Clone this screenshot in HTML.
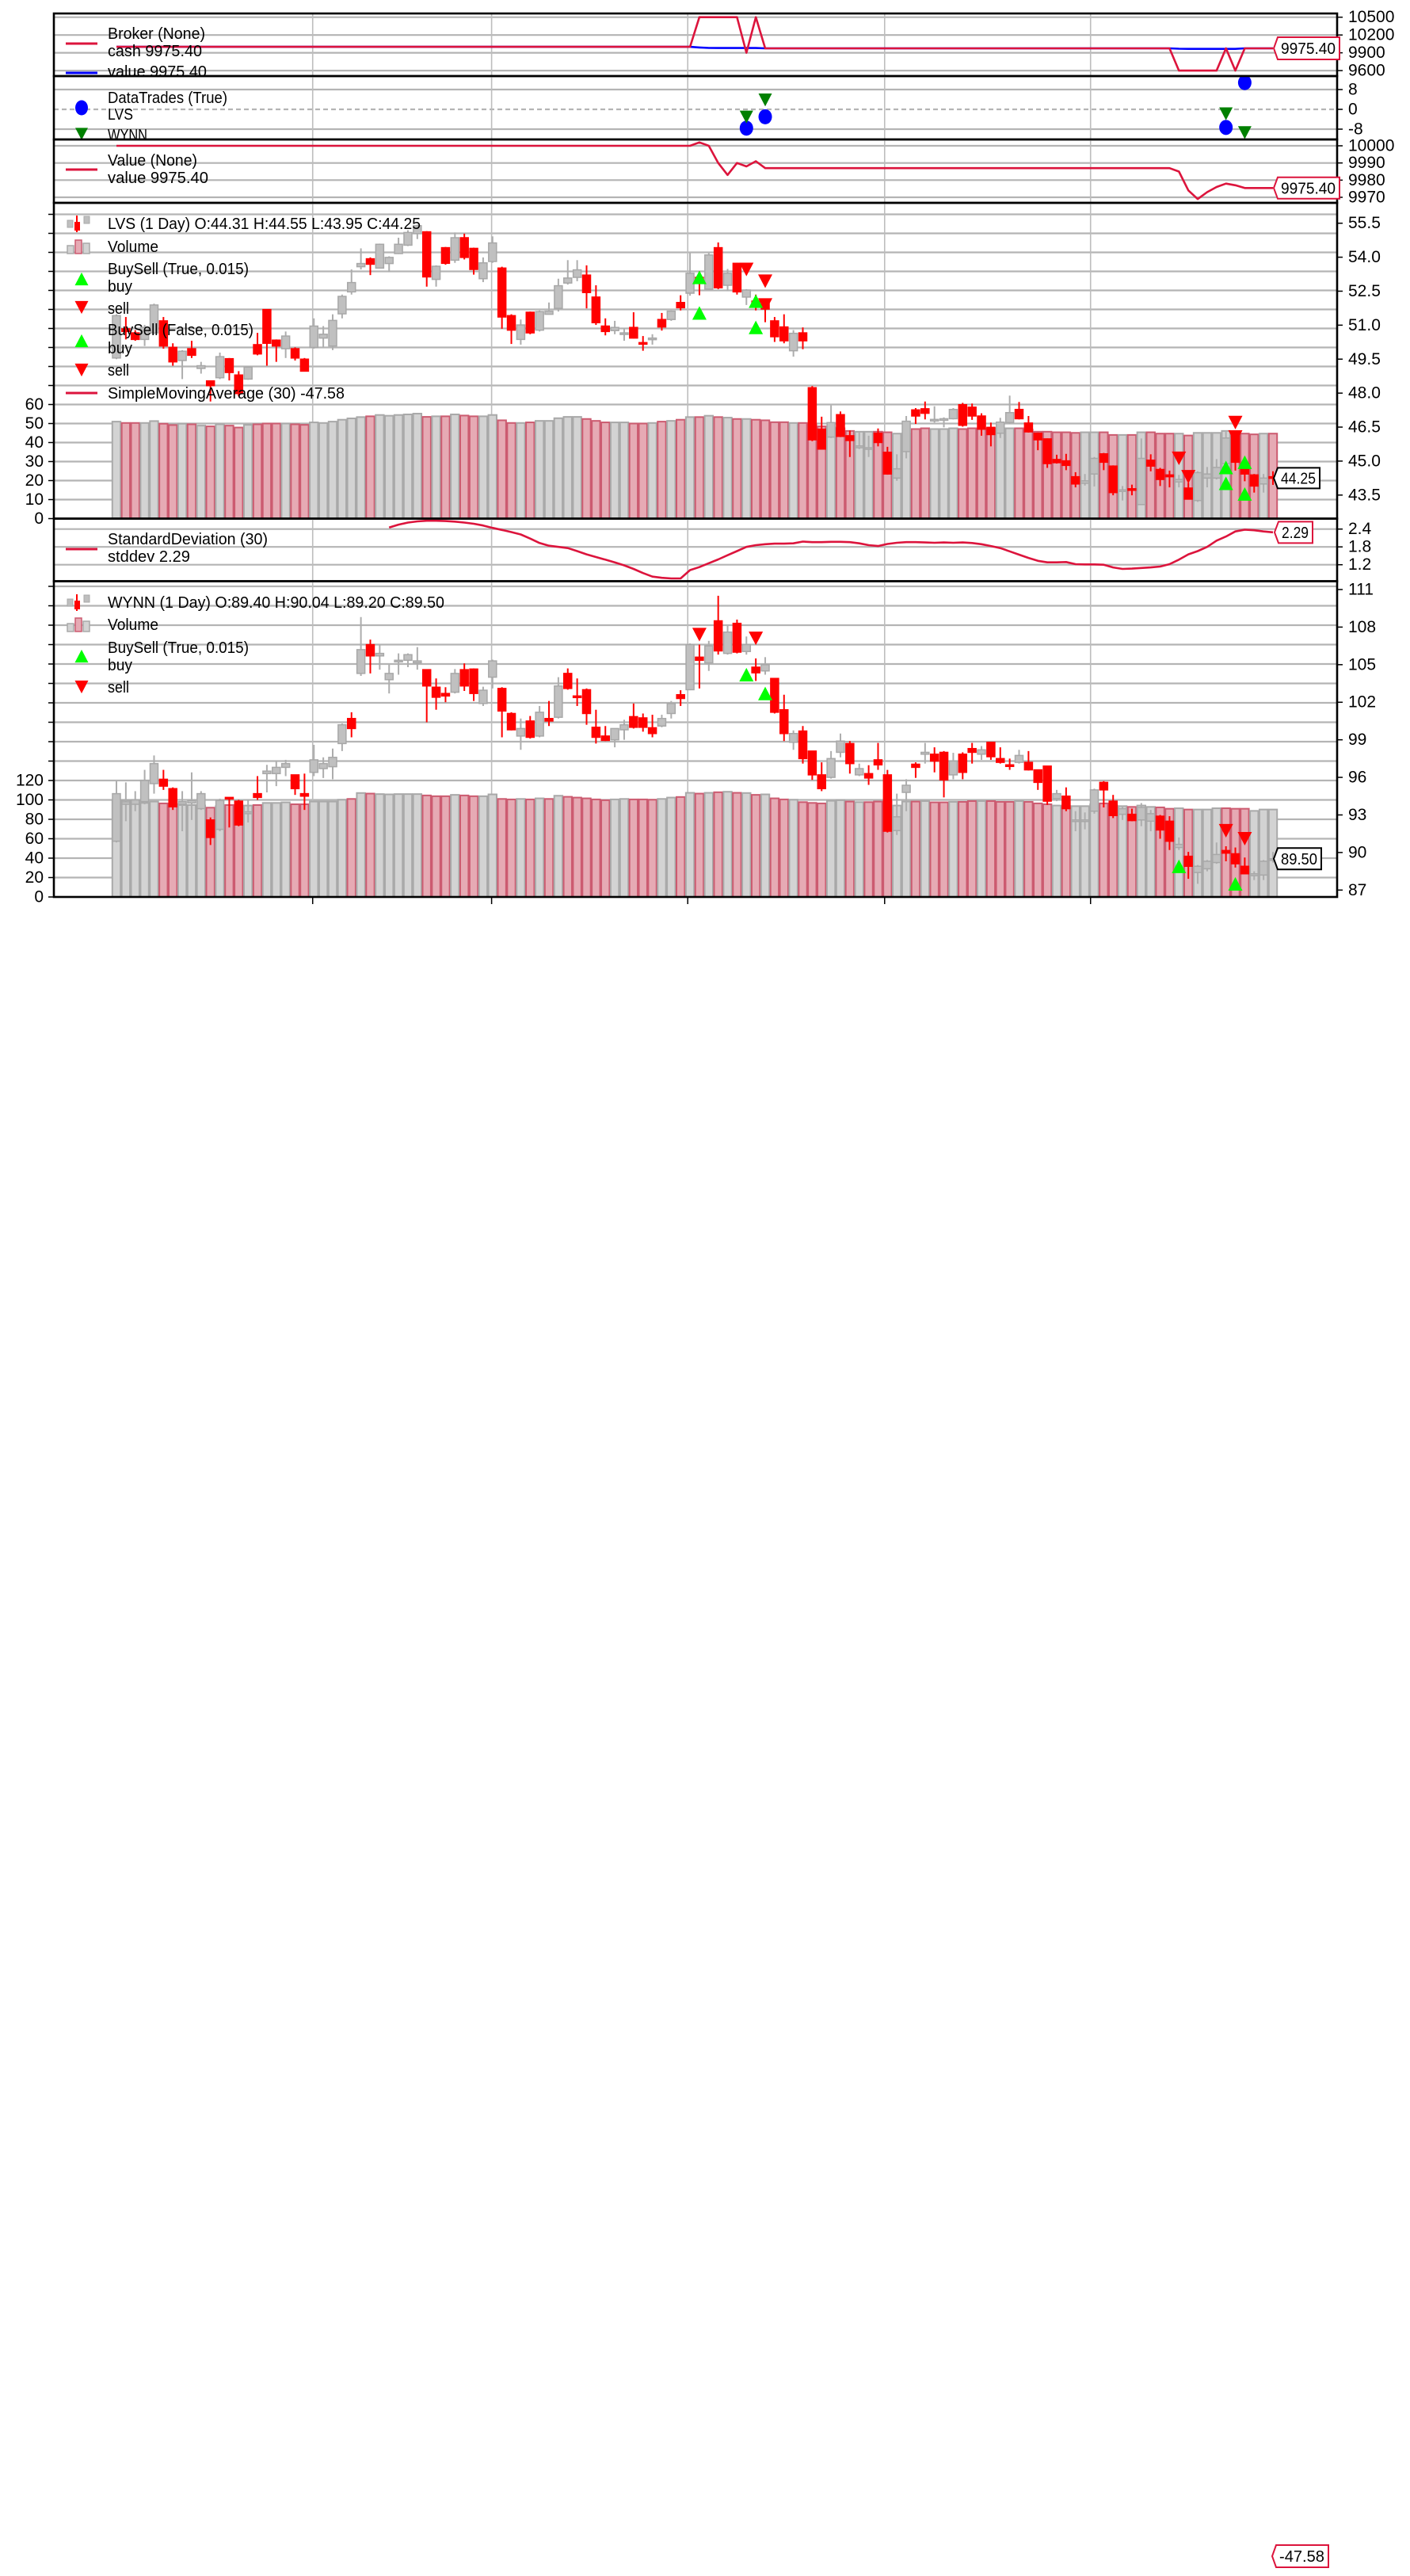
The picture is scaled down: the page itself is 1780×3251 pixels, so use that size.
<!DOCTYPE html>
<html><head><meta charset="utf-8"><title>Backtrader chart LVS / WYNN</title>
<style>html,body{margin:0;padding:0;background:#fff}svg{display:block;font-family:"Liberation Sans",sans-serif}</style>
</head><body>
<svg id="chart" xmlns="http://www.w3.org/2000/svg" width="1780" height="3251" viewBox="0 0 1780 3251">
<rect x="0" y="0" width="1780" height="3251" fill="#ffffff"/>
<defs id="defs"></defs>
</svg>
<script>
// ---------------- DATA ----------------
const lvsOpen=[49.55,50.84,50.66,50.37,50.66,51.19,50.02,49.44,49.96,49.09,
48.54,48.68,49.52,48.80,48.62,50.14,51.69,50.34,49.96,49.96,
49.50,50.02,50.43,50.08,51.50,52.47,53.58,53.93,53.52,53.72,
54.16,54.53,55.04,55.12,53.02,54.42,53.87,54.86,54.39,53.05,
53.81,53.52,51.42,50.37,51.57,50.78,51.48,51.74,52.86,53.11,
53.21,52.24,50.96,50.76,50.60,50.90,50.23,50.37,51.25,51.25,
52.00,52.41,53.11,52.59,54.42,52.76,53.73,52.24,52.06,51.95,
51.19,50.92,49.87,50.66,48.24,46.41,46.06,47.05,46.12,45.59,
45.53,46.23,45.39,44.25,45.42,47.26,47.31,46.79,46.82,46.87,
47.49,47.38,46.99,46.49,46.23,46.70,47.28,46.68,46.23,45.98,
45.07,45.01,44.31,44.02,44.43,45.32,44.78,43.67,43.78,43.08,
45.04,44.63,44.39,44.08,43.81,43.26,44.25,44.25,44.89,46.14,
44.89,44.39,43.99,44.31];
const lvsHigh=[51.48,51.36,50.78,51.01,51.95,51.36,50.20,49.90,50.31,49.38,
48.56,49.79,49.55,48.97,49.17,50.66,51.71,50.37,50.72,50.02,
49.55,51.30,50.96,51.48,52.35,53.46,54.39,53.99,54.60,54.04,
54.86,55.19,55.44,55.15,53.64,54.45,55.09,55.04,54.42,53.99,
54.92,53.58,51.48,51.25,51.60,51.65,52.00,53.05,53.87,53.87,
53.64,52.76,51.30,51.19,50.87,51.57,50.52,50.60,51.54,51.65,
52.32,54.18,53.37,54.18,54.65,53.48,53.75,52.59,52.35,52.00,
51.36,51.48,50.78,50.90,48.31,46.96,47.46,47.19,46.35,46.29,
46.12,46.44,45.63,45.30,46.99,47.34,47.63,47.42,46.93,47.34,
47.57,47.54,47.11,46.70,46.91,47.89,47.61,46.99,46.26,46.00,
45.28,45.32,44.51,44.43,45.18,45.36,44.81,43.90,43.96,46.00,
45.30,44.70,44.58,44.39,44.04,44.55,44.74,45.09,46.29,46.21,
44.95,44.43,44.43,44.55];
const lvsLow=[49.50,50.37,50.31,50.08,50.60,49.96,49.21,48.62,49.55,48.86,
47.63,48.62,48.56,47.86,48.59,49.67,49.21,49.38,49.55,49.44,
48.95,49.96,50.02,49.90,51.30,52.35,53.46,53.21,53.50,53.35,
54.14,54.49,54.80,52.70,52.70,53.67,53.75,53.90,53.23,52.90,
53.75,50.84,50.17,50.14,50.60,50.72,51.48,51.60,52.79,52.94,
51.74,51.01,50.55,50.60,50.31,50.41,49.87,50.14,50.76,51.19,
51.65,52.30,52.32,52.55,52.59,52.51,52.35,51.89,51.65,51.13,
50.26,50.20,49.61,49.94,45.88,45.51,46.02,46.06,45.18,45.53,
45.18,45.65,44.40,44.13,45.12,46.64,46.84,46.70,46.49,46.84,
46.52,46.82,46.12,45.65,46.02,46.64,46.84,46.26,45.48,44.70,
44.89,44.60,43.84,43.92,43.88,44.60,43.49,43.26,43.49,43.06,
44.55,43.90,43.84,43.84,43.30,43.20,43.84,44.19,44.86,44.58,
44.11,43.61,43.61,43.95];
const lvsClose=[51.42,50.72,50.37,50.90,51.89,50.08,49.38,49.85,49.67,49.21,
48.33,49.61,48.91,47.98,49.15,49.73,50.20,50.08,50.52,49.55,
48.97,50.96,50.60,51.21,52.27,52.88,53.72,53.69,54.57,53.99,
54.57,55.09,55.39,53.13,53.60,53.73,54.86,53.99,53.46,53.75,
54.63,51.36,50.78,51.01,50.66,51.60,51.62,52.74,53.08,53.44,
52.44,51.11,50.72,50.90,50.66,50.43,50.16,50.43,50.92,51.62,
51.77,53.29,52.94,54.10,52.65,53.29,52.47,52.55,51.95,51.71,
50.49,50.31,50.64,50.31,45.94,45.53,46.70,46.09,45.91,45.67,
45.59,45.82,44.43,44.66,46.76,46.99,47.11,46.84,46.87,47.28,
46.58,46.99,46.41,46.17,46.72,47.14,46.87,46.29,45.94,44.89,
44.93,44.81,43.99,44.13,45.12,44.95,43.61,43.73,43.73,45.12,
44.78,44.19,44.31,44.19,43.32,44.49,44.43,44.72,46.02,44.95,
44.43,43.90,44.25,44.25];
const lvsVolume=[51.0,50.3,50.3,50.3,51.3,49.9,49.2,49.9,49.6,48.9,
48.5,49.6,48.9,47.9,49.3,49.6,50.0,50.0,50.0,49.6,
49.3,50.6,50.3,51.0,52.0,52.7,53.4,53.8,54.5,54.1,
54.5,54.8,55.2,53.5,53.8,53.8,54.8,54.2,53.8,53.8,
54.5,51.7,50.3,50.3,50.6,51.4,51.4,52.8,53.5,53.5,
52.4,51.4,50.6,50.6,50.6,50.0,50.0,50.3,51.0,51.4,
52.0,53.4,53.4,54.1,53.4,53.1,52.4,52.4,52.0,51.7,
50.7,50.7,50.3,50.3,49.5,48.5,47.9,47.5,46.1,45.7,
45.7,45.7,45.4,44.7,44.7,47.1,47.5,47.1,47.1,47.5,
47.1,47.5,47.1,47.5,47.1,47.5,47.5,46.8,45.7,45.7,
45.4,45.4,45.1,45.4,45.4,45.4,44.0,44.0,44.0,45.4,
45.4,44.7,44.7,44.7,43.7,45.1,45.1,45.1,46.1,45.1,
44.7,44.3,44.7,44.7];

const wynnOpen=[90.9,93.85,93.85,94.06,95.5,95.85,95.1,93.85,93.95,93.5,
92.6,91.85,94.4,94.1,93.1,94.7,96.3,96.3,96.8,96.2,
94.7,96.4,96.7,96.85,98.7,100.7,104.3,106.6,105.7,103.8,
105.25,105.35,105.15,104.6,103.2,102.7,102.8,104.6,104.65,101.9,
104.0,103.1,101.1,99.3,100.5,99.3,100.7,100.8,104.3,102.5,
103.0,100.0,99.3,99.0,99.8,100.85,100.75,99.96,100.1,101.1,
102.6,103.0,105.6,105.14,108.5,105.9,108.3,106.05,104.8,104.5,
103.9,101.4,98.8,99.7,98.1,96.2,96.0,98.0,98.7,96.2,
96.3,97.4,96.2,91.75,94.8,97.05,97.85,97.85,98.0,96.2,
97.85,98.3,97.85,98.8,97.5,97.0,97.2,97.2,96.6,96.9,
94.3,94.5,92.5,92.5,93.3,95.6,94.1,93.05,93.05,92.6,
92.5,92.9,92.5,90.4,89.7,88.4,88.7,89.2,90.16,89.9,
88.9,88.15,88.2,89.4];
const wynnHigh=[95.7,95.6,94.9,96.6,97.75,96.6,95.2,94.9,96.4,94.9,
92.8,94.3,94.4,94.2,94.2,96.1,97.0,97.3,97.4,96.2,
96.3,98.6,97.6,98.3,100.3,101.2,108.8,107.0,106.6,105.0,
105.9,105.9,106.4,104.6,103.9,103.2,104.65,105.1,104.7,103.24,
105.4,103.2,101.2,100.7,100.9,101.7,102.1,104.0,104.7,103.9,
103.1,101.4,100.1,99.9,100.6,101.9,101.1,101.0,101.0,102.1,
102.96,106.7,106.6,106.9,110.5,108.1,108.6,107.25,105.5,105.6,
103.9,102.6,99.75,100.1,98.1,97.2,98.1,99.5,98.9,97.1,
96.97,98.75,96.6,94.7,95.85,97.2,98.75,98.4,98.1,97.96,
98.0,98.75,98.5,98.8,98.4,97.5,98.2,98.1,96.6,96.9,
95.0,95.2,93.3,93.2,95.1,95.7,94.6,93.75,93.5,93.95,
93.4,93.0,92.9,91.2,90.05,89.0,89.4,90.8,90.5,90.4,
89.6,88.5,89.4,90.04];
const wynnLow=[90.8,92.5,93.3,93.85,94.7,95.0,93.4,91.7,92.6,93.4,
90.6,91.7,92.0,92.1,92.4,94.2,94.8,95.3,96.1,94.6,
93.4,96.1,95.95,95.85,98.1,99.2,104.1,104.3,104.6,102.7,
104.2,104.8,104.6,100.4,101.4,102.0,102.7,102.9,102.1,101.7,
103.1,99.2,99.75,98.2,99.1,99.2,100.1,100.7,103.0,101.7,
100.2,98.7,98.9,98.4,99.0,99.9,99.65,99.2,100.0,100.7,
101.7,102.96,103.1,104.5,105.8,105.8,105.9,105.8,103.7,104.2,
101.1,98.9,98.2,97.1,95.8,94.9,95.9,97.6,96.3,96.1,
95.4,96.6,91.6,91.4,93.3,95.96,97.1,96.4,94.4,95.85,
95.85,97.1,97.4,97.4,97.1,96.6,97.1,96.55,95.0,93.8,
94.1,93.3,91.7,91.85,93.1,93.6,92.75,92.6,92.5,92.1,
91.7,91.1,90.2,90.2,87.9,87.5,88.5,89.1,89.3,88.8,
88.3,87.8,87.8,89.2];
const wynnClose=[94.7,94.05,94.2,95.75,97.1,95.3,93.65,94.06,94.15,94.7,
91.2,94.15,94.3,92.2,93.25,94.4,96.5,96.8,97.1,95.1,
94.5,97.4,97.1,97.6,100.2,99.9,106.2,105.7,105.9,104.3,
105.35,105.8,105.3,103.3,102.4,102.5,104.3,103.3,102.7,102.96,
105.3,101.3,99.8,99.9,99.2,101.2,100.5,103.3,103.1,102.4,
101.1,99.2,98.95,99.9,100.2,100.0,100.0,99.5,100.7,101.9,
102.3,106.6,105.35,106.5,106.1,107.6,106.0,106.6,104.35,105.0,
101.2,99.5,99.5,97.5,96.2,95.1,97.5,98.9,97.1,96.7,
95.95,97.0,91.7,92.85,95.37,96.8,98.0,97.3,95.8,97.3,
96.4,98.0,98.2,97.65,97.2,96.9,97.75,96.6,95.6,94.1,
94.7,93.5,92.6,92.6,95.0,95.0,92.95,93.5,92.55,93.6,
93.1,91.8,90.9,90.65,88.9,88.9,89.3,89.84,89.95,89.1,
88.3,88.3,89.3,89.5];
const wynnVolume=[99.7,99.7,99.7,96.9,98.3,96.4,95.5,94.7,94.7,94.2,
92.0,93.6,94.7,94.2,94.2,94.7,96.9,96.9,97.5,95.5,
95.5,98.3,98.3,98.3,100.2,101.0,107.1,106.5,106.0,105.7,
106.0,106.0,106.0,104.6,103.8,103.8,105.2,104.6,103.8,103.8,
105.7,101.0,100.5,101.0,100.5,101.6,101.0,104.3,103.2,102.4,
101.6,100.5,99.7,100.5,101.0,100.5,100.5,100.2,101.0,102.4,
103.0,107.3,106.5,107.3,107.9,108.4,107.3,107.1,105.2,105.7,
101.6,100.5,100.2,97.7,96.9,96.4,99.1,99.7,98.3,97.7,
97.7,98.3,98.3,94.2,98.3,98.3,98.8,97.5,97.5,98.0,
98.0,98.8,98.8,98.8,98.0,98.0,98.8,98.0,96.4,95.5,
94.2,93.6,93.6,93.6,95.5,96.4,94.2,93.6,92.8,94.2,
92.8,92.3,90.9,91.4,90.1,90.1,90.1,91.4,91.4,90.9,
90.9,88.7,90.1,90.1];

const sdStart=29;
const sdValues=[2.45,2.55,2.62,2.66,2.68,2.68,2.67,2.65,2.62,2.58,2.52,2.44,2.37,2.30,2.22,2.08,1.93,1.84,1.80,1.76,
1.66,1.55,1.46,1.37,1.28,1.18,1.06,0.92,0.80,0.76,0.74,0.74,1.02,1.12,1.25,1.38,1.52,1.66,1.80,1.86,
1.89,1.91,1.91,1.92,1.98,1.96,1.96,1.97,1.97,1.96,1.92,1.86,1.83,1.90,1.94,1.96,1.96,1.95,1.94,1.95,
1.94,1.95,1.93,1.89,1.83,1.76,1.65,1.54,1.43,1.33,1.28,1.28,1.29,1.22,1.21,1.21,1.20,1.11,1.06,1.07,
1.09,1.11,1.14,1.22,1.37,1.55,1.66,1.80,2.01,2.15,2.32,2.38,2.36,2.32,2.29];

const brokerCash=[];const brokerValue=[];const portfolioValue=[];
for(let i=0;i<124;i++){brokerCash.push(10000);brokerValue.push(10000);portfolioValue.push(10000);}
const cashChangeIdx=[62,63,64,65,66,67,68,69,113,114,115,116,117,118,119,120];
const cashChangeVal=[10500,10500,10500,10500,10500,9900,10500,9975.4,9600,9600,9600,9600,9600,9975.4,9600,9975.4];
const valueChangeIdx=[62,63,64,65,66,67,68,69,113,114,115,116,117,118,119,120];
const brokerValueChange=[9990,9982,9980,9980,9980,9980,9980,9975.4,9968,9966,9966,9966,9966,9966,9966,9975.4];
const portfolioChange=[10002,10000,9990,9983,9990,9988,9991,9987,9985,9974,9969,9973,9976,9978,9977,9975.4];

const lvsTradeIdx=[67,69,118,120];const lvsTradeVal=[-7.6,-3.0,-7.3,10.8];
const wynnTradeIdx=[67,69,118,120];const wynnTradeVal=[-3.1,3.8,-1.8,-9.4];

const lvsBuyIdx=[62,62,68,68,118,118,120,120];const lvsBuyPrice=[53.11,51.54,52.06,50.90,44.72,44.02,44.95,43.55];
const lvsSellIdx=[67,69,69,113,114,119,119];const lvsSellPrice=[53.46,52.94,51.89,45.12,44.31,46.70,46.06];
const wynnBuyIdx=[67,69,113,119];const wynnBuyPrice=[104.2,102.7,88.9,87.5];
const wynnSellIdx=[62,68,118,120];const wynnSellPrice=[107.4,107.1,91.74,91.1];

const brokerTicks=[10500,10200,9900,9600];
const tradeTicks=[8,0,-8];
const valueTicks=[10000,9990,9980,9970];
const lvsPriceTicks=[55.5,54.0,52.5,51.0,49.5,48.0,46.5,45.0,43.5];
const lvsVolTicks=[0,10,20,30,40,50,60];
const sdTicks=[2.4,1.8,1.2];
const wynnPriceTicks=[111,108,105,102,99,96,93,90,87];
const wynnVolTicks=[0,20,40,60,80,100,120];
const xTickIdx=[20.87,39.9,60.76,81.7,103.6];

// ---------------- HELPERS ----------------
const NS='http://www.w3.org/2000/svg';
const svg=document.getElementById('chart');
const defs=document.getElementById('defs');
function mk(tag,attrs,parent){const e=document.createElementNS(NS,tag);for(const k in attrs)e.setAttribute(k,attrs[k]);(parent||svg).appendChild(e);return e;}
function lin(v1,y1,v2,y2){const k=(y2-y1)/(v2-v1);return v=>y1+(v-v1)*k;}
const XL=68,XR=1688;
function xs(i){return XL+(i+6.655)*11.87;}
const CRIMSON='#dc143c',GRID='#b4b4b4';

const P={
 broker:{top:17,bottom:96,y:lin(10500,21.7,9600,89.1)},
 trades:{top:96,bottom:176,y:lin(8,113,-8,163)},
 value:{top:176,bottom:256,y:lin(10000,184,9970,249)},
 lvs:{top:256,bottom:654.5,y:lin(55.5,281.7,43.5,624.8),v:lin(0,654.5,60,510.5)},
 sd:{top:654.5,bottom:733.5,y:lin(2.4,667.7,1.2,712.7)},
 wynn:{top:733.5,bottom:1132,y:lin(111,744,87,1123.3),v:lin(0,1132,120,985)}
};

function panelGroup(key,name){
 const p=P[key];
 const cp=mk('clipPath',{id:'clip-'+key},defs);
 mk('rect',{x:XL,y:p.top,width:XR-XL,height:p.bottom-p.top},cp);
 const g=mk('g',{'clip-path':'url(#clip-'+key+')'});
 
 
 return g;
}
function hgrid(g,y,dash){
 const l=mk('line',{x1:XL,x2:XR,y1:y,y2:y,stroke:GRID,'stroke-width':2.2},g);
 if(dash){l.setAttribute('stroke-dasharray','6,4');}
 
 
}
function vgrid(g,key){
 for(const t of xTickIdx){
  const l=mk('line',{x1:xs(t),x2:xs(t),y1:P[key].top,y2:P[key].bottom,stroke:'#bdbdbd','stroke-width':1.6},g);
  
  
 }
}
function label(x,y,s,size,anchor,len,parent){
 const t=mk('text',{x:x,y:y,'font-size':size,'text-anchor':anchor||'start','dominant-baseline':'central',fill:'#000'},parent);
 if(len){t.setAttribute('textLength',len);t.setAttribute('lengthAdjust','spacingAndGlyphs');}
 t.textContent=s;
 return t;
}
function rightTicks(key,ticks,fmt){
 for(const v of ticks){
  const y=P[key].y(v);
  const tk=mk('line',{x1:XR,x2:XR+7,y1:y,y2:y,stroke:'#000','stroke-width':1.5});
  
  
  const t=label(XR+14,y,fmt(v),21,'start');
  
  
 }
}
function frame(key,name){
 const p=P[key];
 const r=mk('rect',{x:XL,y:p.top,width:XR-XL,height:p.bottom-p.top,fill:'none',stroke:'#000','stroke-width':2.6});
 
 
}
function lineIcon(y,color,name){
 const l=mk('line',{x1:83,x2:123,y1:y,y2:y,stroke:color,'stroke-width':3});
 
 
}
function tri(x,y,up,color,s,parent){
 const h=s*0.95,w=s/2;
 const pts=up?`${x},${y-h/2} ${x-w},${y+h/2} ${x+w},${y+h/2}`:`${x},${y+h/2} ${x-w},${y-h/2} ${x+w},${y-h/2}`;
 return mk('polygon',{points:pts,fill:color},parent);
}
function valueBox(x1,x2,yc,h,s,color){
 const y1=yc-h/2,y2=yc+h/2;
 const b=mk('polygon',{points:`${x1+5},${y1} ${x2},${y1} ${x2},${y2} ${x1+5},${y2} ${x1},${yc}`,fill:'#fff',stroke:color,'stroke-width':2});
 
 
 const t=label((x1+x2)/2+2,yc+1,s,20,'middle',(x2-x1)-14);
 
 
}
function legendText(y,s,len){
 const t=label(136,y,s,20,'start',len);
 
 
}
function candleIcon(y){
 const g=mk('g',{});
 
 
 mk('rect',{x:85,y:y-5,width:7,height:9,fill:'#bfbfbf',stroke:'#a8a8a8'},g);
 mk('line',{x1:97,x2:97,y1:y-11,y2:y+10,stroke:'red','stroke-width':2},g);
 mk('rect',{x:94,y:y-3,width:7,height:11,fill:'red'},g);
 mk('rect',{x:106,y:y-10,width:7,height:9,fill:'#bfbfbf',stroke:'#a8a8a8'},g);
}
function volIcon(y){
 const g=mk('g',{});
 
 
 mk('rect',{x:85,y:y-2,width:8,height:10,fill:'#d3d3d3',stroke:'#a9a9a9','stroke-width':1.5},g);
 mk('rect',{x:95,y:y-9,width:8,height:17,fill:'#e6aab4',stroke:'#cc5b70','stroke-width':1.5},g);
 mk('rect',{x:105,y:y-5,width:8,height:13,fill:'#d3d3d3',stroke:'#a9a9a9','stroke-width':1.5},g);
}
function drawVolume(g,vol,O,C,vscale,name){
 const base=vscale(0);
 for(let i=0;i<vol.length;i++){
  const up=C[i]>=O[i];
  const y=vscale(vol[i]);
  const r=mk('rect',{x:xs(i)-5.2,y:y,width:10.4,height:base-y,fill:up?'#d3d3d3':'#e6aab4',stroke:up?'#a9a9a9':'#cc5b70','stroke-width':2},g);
  
  
 }
}
function drawCandles(g,O,H,L,C,yscale,name){
 for(let i=0;i<O.length;i++){
  const up=C[i]>=O[i];
  const col=up?'#b4b4b4':'#ff0000';
  const x=xs(i);
  const w=mk('line',{x1:x,x2:x,y1:yscale(H[i]),y2:yscale(L[i]),stroke:up?'#adadad':'#ff0000','stroke-width':2},g);
  
  
  const yt=yscale(Math.max(O[i],C[i])),yb=yscale(Math.min(O[i],C[i]));
  const h=Math.max(yb-yt,2);
  const b=mk('rect',{x:x-5,y:yt,width:10,height:h,fill:up?'#c0c0c0':'#ff0000',stroke:up?'#a8a8a8':'#ff0000','stroke-width':1.5},g);
  
  
 }
}
function seriesPath(g,idx0,vals,yscale,color,name,w){
 let d='';
 for(let k=0;k<vals.length;k++){d+=(k?'L':'M')+xs(idx0+k).toFixed(1)+','+yscale(vals[k]).toFixed(1);}
 const p=mk('path',{d:d,fill:'none',stroke:color,'stroke-width':w||2.6,'stroke-linejoin':'round'},g);
 
 
}
function applyChanges(arr,idx,vals){for(let k=0;k<idx.length;k++){arr[idx[k]]=vals[k];}
 for(let i=1;i<arr.length;i++){if(idx.indexOf(i)<0 && i>idx[0]){ /* carry forward */ const prev=idx.filter(j=>j<i); if(prev.length){arr[i]=vals[idx.indexOf(prev[prev.length-1])];}}}}
applyChanges(brokerCash,cashChangeIdx,cashChangeVal);
applyChanges(brokerValue,valueChangeIdx,brokerValueChange);
applyChanges(portfolioValue,valueChangeIdx,portfolioChange);

// ---------------- BROKER ----------------
{
 const g=panelGroup('broker','broker-panel');
 for(const v of brokerTicks){hgrid(g,P.broker.y(v));}
 vgrid(g,'broker');
 seriesPath(g,0,brokerValue,P.broker.y,'#0000ff','broker-value-line');
 seriesPath(g,0,brokerCash,P.broker.y,CRIMSON,'broker-cash-line');
 lineIcon(55,CRIMSON,'legend-cash-line');
 lineIcon(92,'#0000ff','legend-value-line');
 legendText(43,'Broker (None)',123);
 legendText(65,'cash 9975.40',119);
 legendText(91,'value 9975.40',125);
 frame('broker','broker-frame');
 rightTicks('broker',brokerTicks,v=>String(v));
 valueBox(1608,1691,P.broker.y(brokerCash[123]),28,'9975.40',CRIMSON);
}
// ---------------- DATA TRADES ----------------
{
 const g=panelGroup('trades','datatrades-panel');
 hgrid(g,P.trades.y(8));hgrid(g,P.trades.y(-8));hgrid(g,P.trades.y(0),true);
 vgrid(g,'trades');
 for(let k=0;k<lvsTradeIdx.length;k++){
  const c=mk('ellipse',{cx:xs(lvsTradeIdx[k]),cy:P.trades.y(lvsTradeVal[k]),rx:8.5,ry:9.5,fill:'#0000ff'},g);
  
  
 }
 for(let k=0;k<wynnTradeIdx.length;k++){
  const t=tri(xs(wynnTradeIdx[k]),P.trades.y(wynnTradeVal[k]),false,'#008000',17,g);
  
  
 }
 const c=mk('ellipse',{cx:103,cy:136,rx:8,ry:9.5,fill:'#0000ff'});
 
 
 const t=tri(103,169,false,'#008000',16);
 
 
 legendText(124,'DataTrades (True)',151);
 legendText(145,'LVS',32);
 const w=label(136,171,'WYNN',20,'start',50);
 
 
 frame('trades','datatrades-frame');
 rightTicks('trades',tradeTicks,v=>String(v));
}
// ---------------- VALUE ----------------
{
 const g=panelGroup('value','value-panel');
 for(const v of valueTicks){hgrid(g,P.value.y(v));}
 vgrid(g,'value');
 seriesPath(g,0,portfolioValue,P.value.y,CRIMSON,'portfolio-value-line');
 lineIcon(214,CRIMSON,'legend-value-line');
 legendText(203,'Value (None)',113);
 legendText(225,'value 9975.40',127);
 frame('value','value-frame');
 rightTicks('value',valueTicks,v=>String(v));
 valueBox(1608,1691,P.value.y(portfolioValue[123]),27,'9975.40',CRIMSON);
}
// ---------------- LVS ----------------
{
 const p=P.lvs;
 const g=panelGroup('lvs','lvs-panel');
 for(let v=0;p.v(v)>p.top;v+=10){hgrid(g,p.v(v));}
 vgrid(g,'lvs');
 drawVolume(g,lvsVolume,lvsOpen,lvsClose,p.v,'lvs-volume-bar');
 drawCandles(g,lvsOpen,lvsHigh,lvsLow,lvsClose,p.y,'lvs-candle');
 for(let k=0;k<lvsBuyIdx.length;k++){
  const t=tri(xs(lvsBuyIdx[k]),p.y(lvsBuyPrice[k]),true,'#00ff00',18,g);
  
  
 }
 for(let k=0;k<lvsSellIdx.length;k++){
  const t=tri(xs(lvsSellIdx[k]),p.y(lvsSellPrice[k]),false,'#ff0000',18,g);
  
  
 }
 candleIcon(283);volIcon(312);
 const b1=tri(103,352,true,'#00ff00',17);
 const s1=tri(103,388,false,'#ff0000',17);
 const b2=tri(103,430,true,'#00ff00',17);
 const s2=tri(103,467,false,'#ff0000',17);
 lineIcon(496,CRIMSON,'legend-sma-line');
 legendText(283,'LVS (1 Day) O:44.31 H:44.55 L:43.95 C:44.25',395);
 legendText(312,'Volume',64);
 legendText(340,'BuySell (True, 0.015)',178);
 legendText(362,'buy',31);
 legendText(390,'sell',27);
 legendText(417,'BuySell (False, 0.015)',184);
 legendText(440,'buy',31);
 legendText(468,'sell',27);
 legendText(497,'SimpleMovingAverage (30) -47.58',299);
 frame('lvs','lvs-frame');
 rightTicks('lvs',lvsPriceTicks,v=>v.toFixed(1));
 for(let v=0;p.v(v)>p.top;v+=10){
  const y=p.v(v);
  const tk=mk('line',{x1:XL-7,x2:XL,y1:y,y2:y,stroke:'#000','stroke-width':1.5});
  
  
 }
 for(const v of lvsVolTicks){
  const t=label(55,p.v(v),String(v),21,'end');
  
  
 }
 valueBox(1608,1666,p.y(lvsClose[123]),26,'44.25','#000');
}
// ---------------- STDDEV ----------------
{
 const g=panelGroup('sd','stddev-panel');
 for(const v of sdTicks){hgrid(g,P.sd.y(v));}
 vgrid(g,'sd');
 seriesPath(g,sdStart,sdValues,P.sd.y,CRIMSON,'stddev-line');
 lineIcon(693,CRIMSON,'legend-stddev-line');
 legendText(681,'StandardDeviation (30)',202);
 legendText(703,'stddev 2.29',104);
 frame('sd','stddev-frame');
 rightTicks('sd',sdTicks,v=>v.toFixed(1));
 valueBox(1609,1657,P.sd.y(sdValues[sdValues.length-1]),27,'2.29',CRIMSON);
}
// ---------------- WYNN ----------------
{
 const p=P.wynn;
 const g=panelGroup('wynn','wynn-panel');
 for(let v=0;p.v(v)>p.top;v+=20){hgrid(g,p.v(v));}
 vgrid(g,'wynn');
 drawVolume(g,wynnVolume,wynnOpen,wynnClose,p.v,'wynn-volume-bar');
 drawCandles(g,wynnOpen,wynnHigh,wynnLow,wynnClose,p.y,'wynn-candle');
 for(let k=0;k<wynnBuyIdx.length;k++){
  const t=tri(xs(wynnBuyIdx[k]),p.y(wynnBuyPrice[k]),true,'#00ff00',18,g);
  
  
 }
 for(let k=0;k<wynnSellIdx.length;k++){
  const t=tri(xs(wynnSellIdx[k]),p.y(wynnSellPrice[k]),false,'#ff0000',18,g);
  
  
 }
 candleIcon(761);volIcon(789);
 const b1=tri(103,828,true,'#00ff00',17);
 const s1=tri(103,867,false,'#ff0000',17);
 legendText(761,'WYNN (1 Day) O:89.40 H:90.04 L:89.20 C:89.50',425);
 legendText(789,'Volume',64);
 legendText(818,'BuySell (True, 0.015)',178);
 legendText(840,'buy',31);
 legendText(868,'sell',27);
 frame('wynn','wynn-frame');
 rightTicks('wynn',wynnPriceTicks,v=>String(v));
 for(let v=0;p.v(v)>p.top;v+=20){
  const y=p.v(v);
  const tk=mk('line',{x1:XL-7,x2:XL,y1:y,y2:y,stroke:'#000','stroke-width':1.5});
  
  
 }
 for(const v of wynnVolTicks){
  const t=label(55,p.v(v),String(v),21,'end');
  
  
 }
 for(const t of xTickIdx){
  const tk=mk('line',{x1:xs(t),x2:xs(t),y1:p.bottom,y2:p.bottom+9,stroke:'#000','stroke-width':1.5});
  
  
 }
 valueBox(1608,1668,p.y(wynnClose[123]),27,'89.50','#000');
}
// SMA last-value box (far below the plotted area)
valueBox(1606,1677,3226,28,'-47.58',CRIMSON);
</script>
</body></html>
